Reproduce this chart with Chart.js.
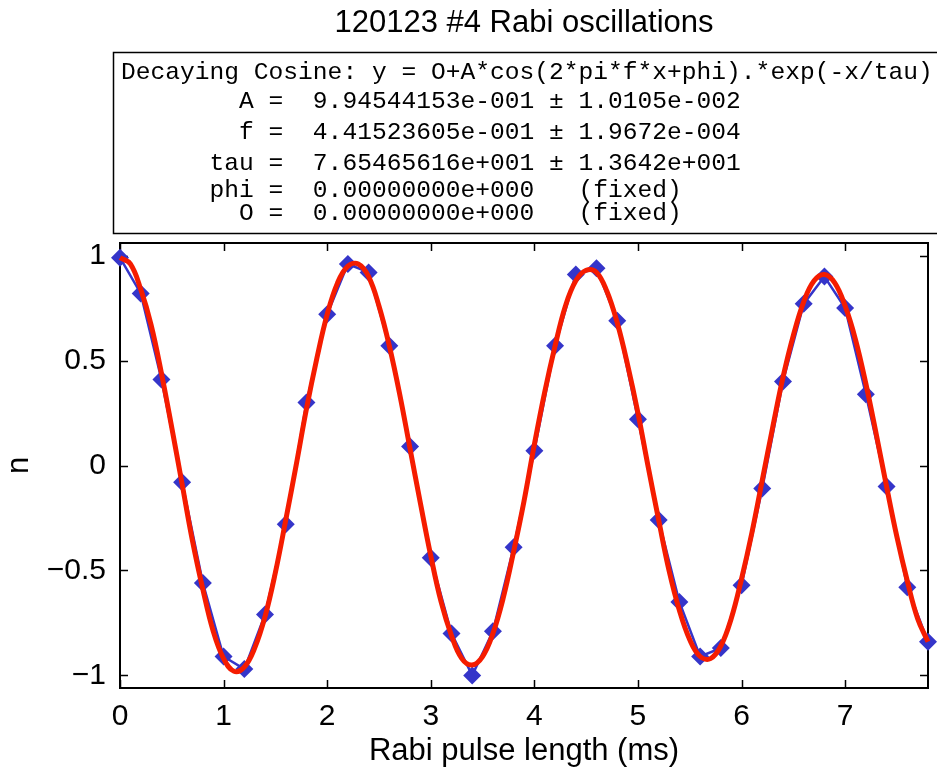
<!DOCTYPE html>
<html>
<head>
<meta charset="utf-8">
<script src="https://cdn.jsdelivr.net/npm/chart.js@4.4.1/dist/chart.umd.min.js"></script>
<style>
  html, body { margin: 0; padding: 0; background: #fff; }
  #wrap { width: 937px; height: 770px; }
</style>
</head>
<body>
<div id="wrap"><canvas id="rabiChart" width="937" height="770"></canvas></div>
<script>
// Measured points (blue diamonds)
const pulseLength = [0, 0.2, 0.4, 0.6, 0.8, 1.0, 1.2, 1.4, 1.6, 1.8,
    2.0, 2.2, 2.4, 2.6, 2.8, 3.0, 3.2, 3.4, 3.6, 3.8,
    4.0, 4.2, 4.4, 4.6, 4.8, 5.0, 5.2, 5.4, 5.6, 5.8,
    6.0, 6.2, 6.4, 6.6, 6.8, 7.0, 7.2, 7.4, 7.6, 7.8];
const measured = [0.99, 0.82, 0.41, -0.08, -0.56, -0.91, -0.97, -0.71, -0.28, 0.30,
    0.72, 0.96, 0.92, 0.57, 0.09, -0.44, -0.80, -1.00, -0.79, -0.39,
    0.07, 0.57, 0.91, 0.94, 0.69, 0.22, -0.26, -0.65, -0.91, -0.87,
    -0.57, -0.11, 0.40, 0.77, 0.90, 0.75, 0.34, -0.10, -0.58, -0.84];

// Fitted curve (red)
const fitX = [0, 0.1, 0.2, 0.3, 0.4, 0.5, 0.6, 0.7, 0.8, 0.9,
    1.0, 1.1, 1.2, 1.3, 1.4, 1.5, 1.6, 1.7, 1.8, 1.9,
    2.0, 2.1, 2.2, 2.3, 2.4, 2.5, 2.6, 2.7, 2.8, 2.9,
    3.0, 3.1, 3.2, 3.3, 3.4, 3.5, 3.6, 3.7, 3.8, 3.9,
    4.0, 4.1, 4.2, 4.3, 4.4, 4.5, 4.6, 4.7, 4.8, 4.9,
    5.0, 5.1, 5.2, 5.3, 5.4, 5.5, 5.6, 5.7, 5.8, 5.9,
    6.0, 6.1, 6.2, 6.3, 6.4, 6.5, 6.6, 6.7, 6.8, 6.9,
    7.0, 7.1, 7.2, 7.3, 7.4, 7.5, 7.6, 7.7, 7.8];
const fitY = [0.99, 0.96, 0.84, 0.67, 0.44, 0.18, -0.09, -0.36, -0.59, -0.79,
    -0.92, -0.98, -0.96, -0.87, -0.72, -0.51, -0.26, 0.00, 0.27, 0.51,
    0.72, 0.87, 0.95, 0.96, 0.90, 0.76, 0.57, 0.34, 0.08, -0.18,
    -0.43, -0.65, -0.81, -0.92, -0.95, -0.91, -0.80, -0.63, -0.41, -0.17,
    0.10, 0.35, 0.57, 0.76, 0.88, 0.93, 0.92, 0.83, 0.68, 0.48,
    0.25, -0.01, -0.26, -0.50, -0.69, -0.83, -0.91, -0.92, -0.86, -0.73,
    -0.54, -0.32, -0.07, 0.18, 0.42, 0.62, 0.78, 0.88, 0.91, 0.87,
    0.76, 0.60, 0.39, 0.15, -0.10, -0.34, -0.55, -0.73, -0.84];

const xTickStep = 1;
const yTickStep = 0.5;

const fitLines = [
    'Decaying Cosine: y = O+A*cos(2*pi*f*x+phi).*exp(-x/tau)',
    '        A =  9.94544153e-001 \u00b1 1.0105e-002',
    '        f =  4.41523605e-001 \u00b1 1.9672e-004',
    '      tau =  7.65465616e+001 \u00b1 1.3642e+001',
    '      phi =  0.00000000e+000   (fixed)',
    '        O =  0.00000000e+000   (fixed)'
];
const fitLineY = [72, 101, 132, 163, 190, 213];

const helv = 'Liberation Sans, Arial, Helvetica, sans-serif';

// box with fit parameters above the axes
const fitBoxPlugin = {
    id: 'fitBox',
    afterDraw(chart) {
        const ctx = chart.ctx;
        ctx.save();
        ctx.strokeStyle = '#000';
        ctx.lineWidth = 1.5;
        ctx.strokeRect(113.5, 52.5, 900, 181);
        ctx.fillStyle = '#000';
        ctx.font = '24.6px "Liberation Mono", "Courier New", monospace';
        ctx.textBaseline = 'middle';
        ctx.textAlign = 'left';
        fitLines.forEach((t, i) => ctx.fillText(t, 121, fitLineY[i]));
        ctx.restore();
    }
};

// MATLAB style frame with inward ticks
const frameTicksPlugin = {
    id: 'frameTicks',
    beforeDatasetsDraw(chart) {
        const {ctx, chartArea: a, scales} = chart;
        const len = 8;
        ctx.save();
        ctx.strokeStyle = '#000';
        ctx.lineWidth = 2;
        ctx.strokeRect(a.left, a.top, a.right - a.left, a.bottom - a.top);
        ctx.lineWidth = 1.5;
        ctx.beginPath();
        scales.x.ticks.forEach(t => {
            const px = Math.round(scales.x.getPixelForValue(t.value)) + 0.5;
            ctx.moveTo(px, a.bottom); ctx.lineTo(px, a.bottom - len);
            ctx.moveTo(px, a.top); ctx.lineTo(px, a.top + len);
        });
        scales.y.ticks.forEach(t => {
            const py = Math.round(scales.y.getPixelForValue(t.value)) + 0.5;
            ctx.moveTo(a.left, py); ctx.lineTo(a.left + len, py);
            ctx.moveTo(a.right, py); ctx.lineTo(a.right - len, py);
        });
        ctx.stroke();
        ctx.restore();
    }
};

const ctxRabi = document.getElementById('rabiChart').getContext('2d');
const rabiChart = new Chart(ctxRabi, {
    type: 'line',
    data: {
        datasets: [{
            label: 'data',
            data: pulseLength.map((x, i) => ({x: x, y: measured[i]})),
            borderColor: '#3535c9',
            backgroundColor: '#3535c9',
            borderWidth: 2.5,
            pointStyle: 'rectRot',
            pointRadius: 9,
            pointBorderWidth: 0,
            tension: 0,
            clip: false,
            order: 2
        }, {
            label: 'fit',
            data: fitX.map((x, i) => ({x: x, y: fitY[i]})),
            borderColor: '#f51c00',
            borderWidth: 5,
            pointRadius: 0,
            tension: 0.4,
            clip: false,
            order: 1
        }]
    },
    options: {
        responsive: false,
        animation: false,
        events: [],
        layout: { padding: { top: 0, left: 0, right: 8, bottom: 0 } },
        scales: {
            x: {
                type: 'linear',
                min: 0,
                max: 7.8,
                grid: { display: false, drawTicks: false },
                border: { display: false },
                ticks: {
                    stepSize: xTickStep,
                    includeBounds: false,
                    padding: 11,
                    color: '#000',
                    font: { family: helv, size: 30 },
                    maxRotation: 0
                },
                title: {
                    display: true,
                    text: 'Rabi pulse length (ms)',
                    color: '#000',
                    font: { family: helv, size: 31 },
                    padding: { top: 0, bottom: 0 }
                },
                afterFit(scale) { scale.height = 82; }
            },
            y: {
                min: -1.06,
                max: 1.06,
                grid: { display: false, drawTicks: false },
                border: { display: false },
                ticks: {
                    stepSize: yTickStep,
                    includeBounds: false,
                    padding: 14,
                    color: '#000',
                    font: { family: helv, size: 30 },
                    callback: v => String(Math.round(v * 100) / 100).replace('-', '\u2212')
                },
                title: {
                    display: true,
                    text: 'n',
                    color: '#000',
                    font: { family: helv, size: 31 },
                    padding: { top: 1, bottom: 0 }
                },
                afterFit(scale) { scale.width = 120; }
            }
        },
        plugins: {
            legend: { display: false },
            tooltip: { enabled: false },
            title: {
                display: true,
                fullSize: false,
                text: '120123 #4 Rabi oscillations',
                color: '#000',
                font: { family: helv, size: 31, weight: 'normal' },
                padding: { top: 5, bottom: 200.8 }
            }
        }
    },
    plugins: [frameTicksPlugin, fitBoxPlugin]
});
</script>
</body>
</html>
